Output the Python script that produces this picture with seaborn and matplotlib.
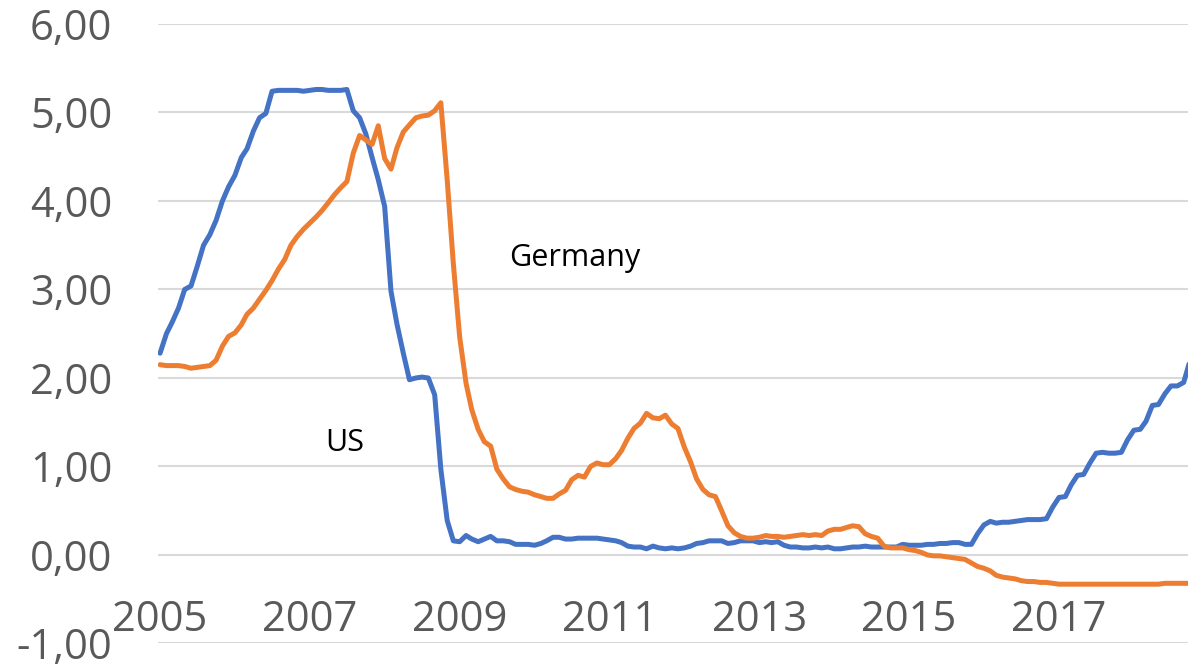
import numpy as np
import pandas as pd
import matplotlib
matplotlib.use("Agg")
import matplotlib.pyplot as plt
import seaborn as sns
from matplotlib.ticker import FuncFormatter

# ------ Dados (médias mensais, jan/2005 - out/2018) ------ #
us_rate = [
    2.28, 2.50, 2.63, 2.79, 3.00, 3.04, 3.26, 3.50, 3.62, 3.78, 4.00, 4.16,
    4.29, 4.49, 4.59, 4.79, 4.94, 4.99, 5.24, 5.25, 5.25, 5.25, 5.25, 5.24,
    5.25, 5.26, 5.26, 5.25, 5.25, 5.25, 5.26, 5.02, 4.94, 4.76, 4.49, 4.24,
    3.94, 2.98, 2.61, 2.28, 1.98, 2.00, 2.01, 2.00, 1.81, 0.97, 0.39, 0.16,
    0.15, 0.22, 0.18, 0.15, 0.18, 0.21, 0.16, 0.16, 0.15, 0.12, 0.12, 0.12,
    0.11, 0.13, 0.16, 0.20, 0.20, 0.18, 0.18, 0.19, 0.19, 0.19, 0.19, 0.18,
    0.17, 0.16, 0.14, 0.10, 0.09, 0.09, 0.07, 0.10, 0.08, 0.07, 0.08, 0.07,
    0.08, 0.10, 0.13, 0.14, 0.16, 0.16, 0.16, 0.13, 0.14, 0.16, 0.16, 0.16,
    0.14, 0.15, 0.14, 0.15, 0.11, 0.09, 0.09, 0.08, 0.08, 0.09, 0.08, 0.09,
    0.07, 0.07, 0.08, 0.09, 0.09, 0.10, 0.09, 0.09, 0.09, 0.09, 0.09, 0.12,
    0.11, 0.11, 0.11, 0.12, 0.12, 0.13, 0.13, 0.14, 0.14, 0.12, 0.12, 0.24,
    0.34, 0.38, 0.36, 0.37, 0.37, 0.38, 0.39, 0.40, 0.40, 0.40, 0.41, 0.54,
    0.65, 0.66, 0.79, 0.90, 0.91, 1.04, 1.15, 1.16, 1.15, 1.15, 1.16, 1.30,
    1.41, 1.42, 1.51, 1.69, 1.70, 1.82, 1.91, 1.91, 1.95, 2.19,
]
germany_rate = [
    2.15, 2.14, 2.14, 2.14, 2.13, 2.11, 2.12, 2.13, 2.14, 2.20, 2.36, 2.47,
    2.51, 2.60, 2.72, 2.79, 2.89, 2.99, 3.10, 3.23, 3.34, 3.50, 3.60, 3.68,
    3.75, 3.82, 3.89, 3.98, 4.07, 4.15, 4.22, 4.54, 4.74, 4.69, 4.64, 4.85,
    4.48, 4.36, 4.60, 4.78, 4.86, 4.94, 4.96, 4.97, 5.02, 5.11, 4.24, 3.29,
    2.46, 1.94, 1.64, 1.42, 1.28, 1.23, 0.97, 0.86, 0.77, 0.74, 0.72, 0.71,
    0.68, 0.66, 0.64, 0.64, 0.69, 0.73, 0.85, 0.90, 0.88, 1.00, 1.04, 1.02,
    1.02, 1.09, 1.18, 1.32, 1.43, 1.49, 1.60, 1.55, 1.54, 1.58, 1.48, 1.43,
    1.22, 1.05, 0.86, 0.74, 0.68, 0.66, 0.50, 0.33, 0.25, 0.21, 0.19, 0.19,
    0.20, 0.22, 0.21, 0.21, 0.20, 0.21, 0.22, 0.23, 0.22, 0.23, 0.22, 0.27,
    0.29, 0.29, 0.31, 0.33, 0.32, 0.24, 0.21, 0.19, 0.10, 0.08, 0.08, 0.08,
    0.06, 0.05, 0.03, 0.00, -0.01, -0.01, -0.02, -0.03, -0.04, -0.05, -0.09, -0.13,
    -0.15, -0.18, -0.23, -0.25, -0.26, -0.27, -0.29, -0.30, -0.30, -0.31, -0.31, -0.32,
    -0.33, -0.33, -0.33, -0.33, -0.33, -0.33, -0.33, -0.33, -0.33, -0.33, -0.33, -0.33,
    -0.33, -0.33, -0.33, -0.33, -0.33, -0.32, -0.32, -0.32, -0.32, -0.32,
]
months = pd.date_range("2005-01-01", periods=len(us_rate), freq="MS")
tick_years = [2005, 2007, 2009, 2011, 2013, 2015, 2017]
y_ticks = [-1, 0, 1, 2, 3, 4, 5, 6]

df = pd.DataFrame({"Data": months, "US": us_rate, "Germany": germany_rate})
df_long = df.melt(id_vars="Data", var_name="Pais", value_name="Taxa")

# ------ Gráfico ------ #
sns.set_style("white")
plt.rcParams["font.family"] = ["Open Sans", "DejaVu Sans"]

fig = plt.figure(figsize=(11.88, 6.66), dpi=100)
ax = fig.add_axes([0.133, 0.0338, 0.867, 0.9302])

sns.lineplot(data=df_long, x="Data", y="Taxa", hue="Pais",
             palette={"US": "#4472C4", "Germany": "#ED7D31"},
             linewidth=3.6, legend=False, ax=ax)

ax.set_ylim(-1, 6)
ax.set_yticks(y_ticks)
ax.yaxis.set_major_formatter(FuncFormatter(lambda v, p: f"{v:.2f}".replace(".", ",")))
ax.set_xlim(pd.Timestamp("2004-12-22"), pd.Timestamp("2018-09-22"))
ax.set_xticks([pd.Timestamp(f"{a}-01-01") for a in tick_years])
ax.set_xticklabels([str(a) for a in tick_years])

ax.grid(axis="y", color="#D9D9D9", linewidth=1.5)
ax.set_axisbelow(True)
for s in ax.spines.values():
    s.set_visible(False)
ax.spines["bottom"].set_position(("data", 0))

ax.tick_params(axis="x", length=0, pad=32, labelsize=30, labelcolor="#595959")
ax.tick_params(axis="y", length=0, pad=33, labelsize=30, labelcolor="#595959")
ax.set_xlabel("")
ax.set_ylabel("")

# Rótulos das séries
ax.text(pd.Timestamp("2010-07-15"), 3.36, "Germany", fontsize=22, color="black",
        ha="center", va="center")
ax.text(pd.Timestamp("2007-06-20"), 1.27, "US", fontsize=22, color="black",
        ha="center", va="center")

plt.savefig("out.png", dpi=100)
